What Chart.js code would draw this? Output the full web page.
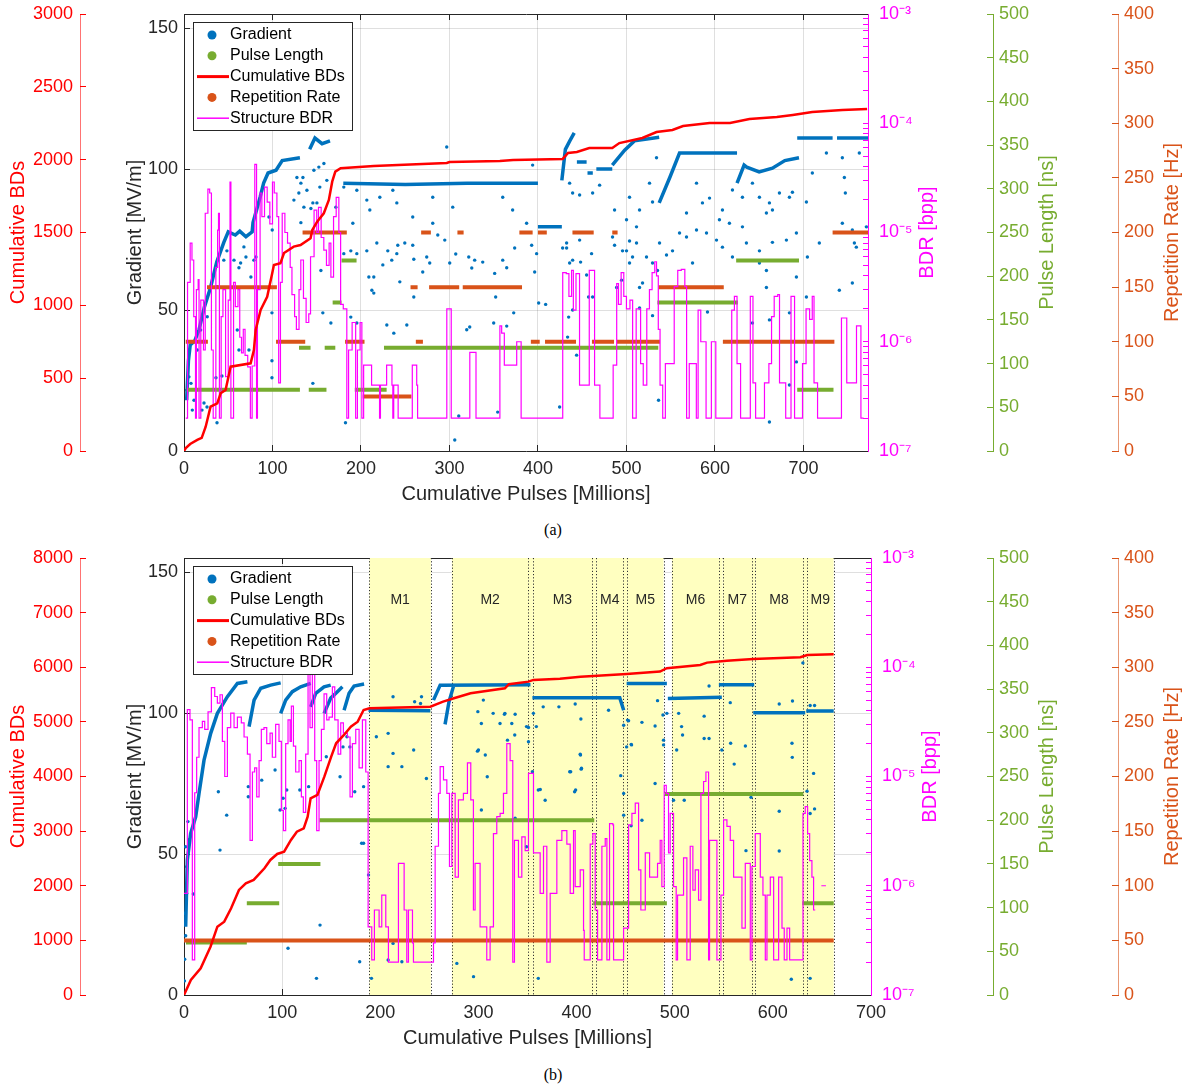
<!DOCTYPE html>
<html><head><meta charset="utf-8">
<script src="https://cdn.jsdelivr.net/npm/chart.js@4.4.0/dist/chart.umd.min.js"></script>
<style>
html,body{margin:0;padding:0;background:#fff;}
#wrap{position:relative;width:1186px;height:1089px;overflow:hidden;}
canvas{position:absolute;left:0;}
.cap{position:absolute;font-family:'Liberation Serif','Times New Roman',serif;font-size:16px;line-height:20px;transform:translateX(-50%);color:#000;}
</style></head>
<body><div id="wrap">
<canvas id="ca" width="1186" height="510" style="top:0px"></canvas>
<div class="cap" style="left:553px;top:520px">(a)</div>
<canvas id="cb" width="1186" height="510" style="top:544px"></canvas>
<div class="cap" style="left:553px;top:1065px">(b)</div>
</div>
<script>
// ---------------- tick labels / axis ranges ----------------
const GRAD_TICKS = [0, 50, 100, 150];
const PULSE_TICKS = [0, 50, 100, 150, 200, 250, 300, 350, 400, 450, 500];
const REP_TICKS = [0, 50, 100, 150, 200, 250, 300, 350, 400];
const BDR_DECADES = [-7, -6, -5, -4, -3];
const A_X_TICKS = [0, 100, 200, 300, 400, 500, 600, 700];
const B_X_TICKS = [0, 100, 200, 300, 400, 500, 600, 700];
const A_CUM_TICKS = [0, 500, 1000, 1500, 2000, 2500, 3000];
const B_CUM_TICKS = [0, 1000, 2000, 3000, 4000, 5000, 6000, 7000, 8000];
const LEGEND_LABELS = ['Gradient', 'Pulse Length', 'Cumulative BDs', 'Repetition Rate', 'Structure BDR'];

// ---------------- panel (a) data ----------------
const A_CUM_BDS = [[0,0],[2,20],[7,48],[15,76],[20,90],[24.5,167],[30,304],[37.6,327],[41.4,396],[47,419],[52.7,579],[75.3,602],[79,693],[81,831],[86.6,968],[94,1059],[99.7,1220],[101.6,1277],[109,1289],[113,1359],[124,1403],[131.7,1414],[143,1460],[145,1517],[150.5,1574],[158,1632],[163.7,1723],[167.5,1849],[171,1918],[177,1941],[214.5,1957],[297,1977],[300,1984],[357,1991],[372,1998],[428,2005],[434,2046],[444,2053],[458,2080],[484,2080],[492,2114],[518,2149],[534,2190],[552,2204],[564,2231],[594,2252],[617,2252],[639,2279],[670,2293],[688,2307],[710,2327],[744,2341],[772,2348]];
const A_PULSE_SEGMENTS = [[3,131,70],[130,143,118],[141,161,70],[159,171,118],[168,178,170],[178,195,218],[193,229,70],[226,536,118],[535,626,170],[624,695,218],[693,734,70]];
const A_REP_SEGMENTS = [[2,27,100],[26,105,150],[104,137,100],[134,184,200],[182,204,100],[202,257,50],[256,264,150],[262,270,100],[268,279,200],[277,311,150],[309,316,200],[315,382,150],[379,394,200],[392,402,100],[400,410,200],[408,443,100],[439,463,200],[461,486,100],[484,490,200],[489,538,100],[536,610,150],[609,735,100],[733,775,200]];
const A_GRAD_BANDS = [
 [[3,18],[5,32],[7,37.6],[12,39],[17,43],[23,51],[30,58],[37,67],[45,74],[50,77.7],[58,76.6],[63,78],[70,76],[77,77.7],[78,81],[82,85.5],[86,90],[90,95],[95,98.6],[104,99.6],[111,103],[131,104]],
 [[142,107],[148,111],[156,109],[165,110]],
 [[180,95],[250,94.5],[320,95],[400,95]],
 [[400,79.5],[427,79.5]],
 [[427,96],[431,107],[436,110],[441,112.8]],
 [[444,102.5],[455,102.5]],
 [[456,98.6],[462,98.6]],
 [[466,100],[484,100]],
 [[484,101.4],[498,106.7],[509,110],[537,111.3]],
 [[537,88],[549,97],[560,105.7],[625,105.7]],
 [[625,95],[633,101.4],[636,100.7],[650,99],[665,100.3],[679,103],[695,104]],
 [[693,111],[733,111]],
 [[738,111],[774,111]]
];
const A_GRAD_POINTS = [[217.9,73.8],[230.3,71],[241.6,73],[214.5,61.7],[224.7,66],[234.8,67.7],[243.9,60],[249.5,73.8],[258.5,73],[259.7,68],[269.8,63.5],[274.3,68.8],[277.7,66.7],[286.8,76.6],[294.7,74.8],[300.3,66.7],[307.1,69.9],[321.8,68.8],[328.5,67.7],[325.2,64.9],[337.6,67],[351.1,63],[360.2,67.7],[364.7,65],[373.7,72],[392.9,73],[396.3,63.5],[214.5,56],[259.7,54.6],[229.2,44.7],[237.1,41.8],[251.8,44.7],[319.5,43],[322.9,44],[350,45.4],[352.2,54.6],[364.7,44.3],[372.6,49],[400.8,52.5],[408.7,52],[433.5,40.4],[443.7,34],[424.5,15.6],[536.3,18],[432.4,72],[435.8,66.7],[448.2,67],[455,62.4],[460.6,70],[486.6,73],[495.6,71],[506.9,68.8],[494.5,60.6],[514.8,58],[529.5,66.7],[545.3,69.5],[535.1,64],[503.5,74.5],[457.2,54.6],[439.2,50],[434.7,47.5],[529.5,48],[514.8,50.7],
[296.9,107.8],[394,101.4],[134.4,97],[138.9,92.5],[145.6,88],[153.5,93.6],[221.3,90],[236,92.5],[240.5,88],[258.5,83],[281.1,90],[281.1,80.8],[303.7,86.5],[360.2,90],[371.4,85.5],[387.2,80.8],[398.5,70],[210,85.5],[206.6,71],[190.8,80.8],[240.5,70],[427.9,72],
[7.9,24],[11.3,18],[20.3,14.5],[26,15.6],[36.1,26],[48.5,71],[62.1,65],[70,68.8],[75.6,61.7],[81.3,68.8],[99.4,49],[99.4,32],[99.4,26],[37.3,10],[132.1,81],[135.5,86.5],[143.4,86],[150.2,88],[124.2,89],[129.8,91.5],[146.8,99.6],[152.4,100.7],[158.1,102],[161.4,96],[171.6,86.5],[180.6,70],[188.5,71],[195.3,70],[208.9,61.7],[212.3,57],[188.5,47.5],[195.3,45.4],[154.7,64],[156.9,49],[166,45.4],[206.6,89],[180.6,93.6],[195.3,92.5],[127.6,97],[132.1,95],[62.1,35.8],
[56.5,67.7],[64,66.7],[67.7,72.4],[45,67.7],[37.6,58.3],[26.3,47.6],[18.8,42.9],[15,35.8],[5.6,26.3],[3,21.6],[9.4,14.5],[22.6,17],[60.2,42.9],[73.4,35.8],[79,67.7],[99.7,78.4],[96,83],[145.6,24],[42.9,26.6],[306,3.9],[354.5,13.8],[310.5,12.4],[182.5,10],
[435.8,95],[439.2,91.5],[447.1,90.8],[461.8,91.5],[469.7,94.3],[486.6,85.5],[503.5,90],[514.8,85.5],[526.1,95],[529.5,88.3],[534,104],[500.1,82],[511.4,79.5],[567.9,84.4],[579.2,95],[585.9,88],[593.9,89.7],[608.5,85.5],[619.8,92.6],[631.1,90],[642.4,95],[650.3,90],[661.6,88],[672.9,91.5],[684.2,90],[687.6,91.8],[703.4,88.3],[710.1,98.6],[726,105.7],[744,104],[746.3,97],[747.4,91.5],[763.2,105.7],[665,85.5],[658.2,84.4],[605.1,82],[616.4,80.8],[631.1,79.5],[432.4,73.8],[447.1,74.8],[439.2,67.7],[484.3,75.9],[500.1,71],[511.4,73.8],[522.7,68.8],[537.4,73.8],[552.1,71],[560,77.3],[567.9,75.9],[579.2,78.4],[590.5,77.3],[601.8,74.8],[608.5,72.3],[619.8,68.8],[635.6,73.8],[650.3,71],[665,74],[680.8,74.8],[692.1,77.3],[704.5,68.8],[718,73.8],[744,80.8],[755.3,78.4],[759.8,72.3],[771.1,79.5],[650.3,66.7],[658.2,64],[503.5,66.7],[574.7,66.7],[488.9,58],[518.2,59.6],[658.2,58],[661.6,46.5],[684.2,49],[461.8,54.6],[591.6,49.3],[692.1,61.7],[703.4,54.6],[740.6,57],[755.3,59.6],[757.6,73.8],[642.4,45.4],[661.6,10.3],[684.2,23.4],[692.1,31.6]];
const A_BDR = [[2,2e-7],[4,3.5e-6],[7,8e-6],[9,5.6e-6],[11,1.7e-6],[13,2e-7],[14,3e-6],[16,3.7e-6],[17,2e-7],[19,2.4e-6],[22,8.4e-7],[24,1.5e-5],[27,2.5e-5],[29,2.3e-5],[31,8.4e-7],[33,2e-7],[36,4.8e-6],[38,1.05e-5],[39,1.5e-5],[40,2e-7],[42,1.7e-6],[44,3e-6],[47,4.8e-7],[50,2.4e-6],[52,2.9e-5],[53,2e-7],[56,3.5e-6],[58,2.1e-6],[61,3e-6],[63,1.1e-6],[65,7.9e-7],[67,1.3e-6],[69,7.5e-7],[72,5.9e-7],[75,2e-7],[77,6e-7],[80,4.2e-5],[82,2e-7],[83,3e-6],[86,2.3e-5],[88,1.4e-5],[91,2.6e-5],[94,1.9e-5],[97,1.2e-5],[100,2.9e-5],[102,2.3e-5],[105,1.4e-5],[107,4.2e-7],[109,3.5e-6],[111,1.5e-5],[114,1e-5],[117,8e-6],[120,4.8e-6],[122,2.7e-6],[125,1.7e-6],[127,1.3e-6],[130,3e-6],[132,5.6e-6],[135,2.5e-6],[138,1.5e-6],[141,1.8e-6],[143,6e-6],[147,1.6e-5],[150,1e-5],[152,1.7e-5],[155,9e-6],[158,6.9e-6],[161,5e-6],[164,8e-6],[166,3.9e-6],[169,1.4e-5],[172,2.1e-5],[175,1e-5],[177,2.2e-6],[180,2e-6],[184,2e-7],[186,8.4e-7],[190,1.5e-6],[194,2e-7],[196,8.4e-7],[199,1.5e-6],[201,2e-7],[203,6.1e-7],[212,4e-7],[221,2e-7],[222,4e-7],[229,6.1e-7],[235,4e-7],[236,2e-7],[237,4e-7],[242,2e-7],[258,6.1e-7],[263,4e-7],[264,2e-7],[297,2e-6],[302,2e-7],[323,8e-7],[330,2e-7],[357,1.4e-6],[359,1.2e-6],[362,6.1e-7],[376,1e-6],[381,2e-7],[428,4.3e-6],[432,4.2e-6],[435,2.6e-6],[438,4.5e-6],[440,1.95e-6],[443,4.2e-6],[447,4e-7],[458,4.5e-6],[464,4e-7],[470,2e-7],[485,6.1e-7],[489,3.4e-6],[491,2.2e-6],[494,4.3e-6],[497,2.6e-6],[500,2e-6],[504,2.4e-6],[507,2e-7],[511,2e-6],[516,6.3e-7],[519,4e-7],[523,2e-6],[526,3e-6],[529,4.3e-6],[532,5.4e-6],[534,4e-6],[536,1.3e-6],[538,4e-7],[541,2e-7],[544,6.3e-7],[554,3.2e-6],[558,4.5e-6],[562,4.6e-6],[566,3.2e-6],[568,2e-7],[571,6.3e-7],[579,2e-7],[581,1.95e-6],[584,1e-6],[590,2e-7],[596,1e-6],[601,2e-7],[619,1.95e-6],[622,2.6e-6],[625,6.3e-7],[629,2e-7],[640,2.6e-6],[643,4.2e-7],[646,2e-7],[656,4.2e-7],[661,6.3e-7],[664,1.7e-6],[667,2.6e-6],[671,2.7e-6],[673,4.2e-7],[680,2e-7],[686,2.6e-6],[690,2e-7],[699,6.3e-7],[703,2e-6],[707,1.6e-6],[710,2.6e-6],[712,4.2e-7],[716,2e-7],[743,1.65e-6],[749,4.2e-7],[760,1.4e-6],[765,2e-7],[768,2e-7]];

// ---------------- panel (b) data ----------------
const B_CUM_BDS = [[0,0],[7,275],[17,489],[27,884],[34,1251],[41,1342],[48,1587],[56,1923],[63,2045],[71,2106],[82,2320],[88,2472],[95,2582],[102,2624],[109,2838],[115,2990],[122,3052],[126,3265],[129,3601],[136,3662],[143,3997],[150,4363],[155,4608],[163,4761],[170,4913],[177,5004],[183,5218],[189,5249],[251,5279],[264,5370],[275,5432],[292,5524],[327,5615],[331,5689],[351,5737],[356,5768],[383,5790],[404,5828],[417,5841],[451,5878],[485,5920],[492,5982],[526,6042],[533,6085],[553,6121],[580,6152],[628,6183],[635,6225],[662,6238]];
const B_PULSE_SEGMENTS = [[2,64,60],[64,97,105],[96,139,150],[138,418,200],[417,492,105],[490,631,230],[630,662,105]];
const B_REP_SEGMENTS = [[0,662,50]];
const B_GRAD_BANDS = [
 [[1.7,24.2],[3.4,47.9],[6.8,57.3],[11.9,63.2],[15.3,71.5],[20.4,83.3],[27.2,92.8],[34,99.9],[44.2,105.8],[54.4,110.5],[64.6,111.1]],
 [[66.3,95.2],[71.4,104.6],[78.2,108.8],[88.3,109.9],[98.5,110.7]],
 [[98.5,99.9],[103.6,104.6],[110.4,107.6],[118.9,109.3],[129.1,110.5]],
 [[129.1,102.2],[134.2,107],[142.7,109.3],[149.5,109.9]],
 [[142.7,99.9],[149.5,105.3],[156.3,107.6],[161.4,109.3]],
 [[163.1,101],[168.2,107],[173.3,109.6],[183.5,110.3]],
 [[188,101],[251,100.8]],
 [[254.2,104.6],[261,109.9],[353,110]],
 [[266,96],[270,104],[275,110]],
 [[355,105.4],[444,105.4],[448,101]],
 [[451,110.5],[492,110.5]],
 [[493,105.2],[548,105.6]],
 [[545,110],[581,110]],
 [[580,100.1],[633,100.1]],
 [[634,100.7],[662,100.7]]
];
const B_GRAD_POINTS = [[213,105.8],[196,91.6],[208,92.8],[213,85.7],[208,81],[222,81],[234,86.9],[247,76.8],[241,103.4],[235,104],[183,73.9],[183,53.8],[188,42.6],[191,5.9],[208,12.4],[222,11.8],[213,18.3],[242,105.8],[305,104.6],[295,6.5],[303,96.3],[322,96.3],[327,99.9],[300,86.9],[307,85.1],[309,77.4],[303,65.6],[334,96.3],[337,92.2],[356,99.9],[359,95.2],[366,102.2],[382,102.2],[361,72.7],[368,69.1],[393,79.2],[399,72.7],[361,5.9],[349,95.2],[351,89.8],[278,11.2],[349,52.6],[315,99.9],
[35,72.1],[43.5,63.8],[36.7,51.4],[65.5,73.9],[65.5,70.3],[79.2,76.2],[92.8,79.8],[97.9,65.6],[103,66.2],[101,69.8],[104.7,72.7],[106,16.6],[138.6,24.8],[135,5.9],[179,11.8],[174,72.1],[181,53.8],[127,73.9],[118,72.7],[159,77.4],[145,84.5],[162,88],[169,88],[166,91.6],
[398.6,103.2],[404.4,97.9],[394,79.2],[398,72.1],[404,85.1],[405,80.4],[432.6,101],[445,77.8],[448,95.7],[448,71.5],[448,63.8],[451,88],[456,88.7],[455.6,60],[453,97.3],[466.6,96.7],[466.6,62],[480,75],[480,95.4],[482.5,104.4],[488,99.3],[488.6,90.4],[488.6,88.7],[492,99.9],[498.8,69.1],[509.7,69.1],[502,86.9],[507,95.2],[508,92.2],[504,99.9],[530,98.9],[530,91],[535,91],[535,109.6],[548,86.9],[556.6,103.7],[557,89.3],[560.6,81.9],[572,88.3],[577.7,70.1],[572.6,51.2],[606.5,103.2],[606.5,65.2],[606.5,51.1],[618.8,5.6],[619.5,89.3],[619.8,84.3],[620,104.3],[630.6,117.8],[634.8,72.3],[638,64.4],[638,5.9],[641.5,78.6],[642.5,66],[638,102.7],[642.5,102.7],
[9.5,35.8],[4,61.5],[2.7,36],[1.7,52.6],[2.7,45.5],[1,29],[1.7,21],[0.7,12.7],[5.1,55.1],[0.5,5],
[299.4,100.5],[326.5,99.6],[337.4,99.6],[299,86.5],[337.4,62.7],[329.6,90.4],[351,94.9],[363,72.9],[404.7,80.1],[403.7,85.4],[355,79.2],[451.9,97.5],[455.7,88.9]];
const B_BDR = [[0,8.5e-7],[3.4,4.1e-5],[6.1,3.3e-5],[8.5,2.1e-7],[10.9,7.1e-6],[12.9,1.5e-5],[15.3,2.8e-5],[18.7,3.2e-5],[21.1,2.7e-5],[24.5,3.9e-5],[27.9,6.5e-5],[31.3,5.4e-5],[34,4.7e-5],[36.7,5.6e-5],[39.1,2.1e-5],[41.5,1e-5],[44.2,2.8e-5],[47.6,3.8e-5],[51,2.8e-5],[54.4,3.5e-5],[58.4,3.1e-5],[61.2,2.3e-5],[64.6,1.6e-5],[67.3,2.6e-6],[69.7,1.1e-5],[72,1.2e-5],[74.1,6.5e-6],[76.5,1.4e-5],[78.8,2.7e-5],[81.5,2.8e-5],[84.3,2e-5],[87.7,2.5e-5],[90,1.5e-5],[93.4,3e-5],[96.8,2.1e-5],[99.2,4.9e-6],[101.3,3.2e-6],[103.6,2e-5],[106,3.3e-5],[108.1,2.1e-5],[109.4,4.4e-5],[111.5,1.9e-5],[113.8,1.1e-5],[117.2,1.4e-5],[119.6,6.5e-6],[121.6,4.7e-6],[124,1.6e-5],[126.4,8.9e-5],[128.4,2.8e-5],[130.8,8.9e-5],[133.2,1.4e-5],[135.2,3.2e-6],[137.6,1.4e-5],[140,2.7e-5],[142.7,5.7e-5],[145.4,3.3e-5],[147.8,3.5e-5],[151.2,6.6e-5],[153.6,3.3e-5],[157,1.6e-5],[159.7,3.1e-5],[162.4,2.5e-5],[166.5,2.3e-5],[169.2,6.5e-6],[171.6,2e-5],[175,2.7e-5],[178.4,1.2e-5],[181.8,3.3e-5],[185.2,1.1e-5],[187.6,4.2e-7],
[191.3,2.1e-7],[194,6e-7],[198.8,4.2e-7],[201.5,8.2e-7],[205.6,4.2e-7],[208.3,2e-7],[218.5,1.6e-6],[224.3,6e-7],[227,2e-7],[228.7,6e-7],[232.8,3e-7],[233.8,2e-7],[254.2,3e-7],[255.9,2.3e-6],[259.3,7e-6],[261,1.23e-5],[264.4,9.3e-6],[267.8,7e-6],[270.5,1.5e-6],[272.9,7e-6],[276.3,1.2e-6],[279.6,6.1e-6],[284.7,7e-6],[288.8,1.33e-5],[292.2,6.1e-6],[294.9,6e-7],[296.6,1.6e-6],[301.7,4.2e-7],[308.5,2.1e-7],[311.9,4.2e-7],[315.3,3e-6],[318.7,4.3e-6],[322.1,4.6e-6],[325.5,7e-6],[328.9,2e-5],[332.3,1.4e-5],[335,2e-7],[336.7,2.6e-6],[340.8,1.2e-6],[344.2,2.8e-6],[347.6,2.1e-6],[351,1.07e-5],[356.1,2e-6],[362.9,8.5e-7],[366.3,2.3e-6],[369.7,2e-7],[373.1,8.5e-7],[379.9,2.6e-6],[385,3.2e-6],[390.1,2.4e-6],[393.5,8.5e-7],
[396.9,3.2e-6],[398.6,9.8e-7],[403.7,1.4e-6],[407.1,3.9e-7],[407.8,2.1e-7],[413.9,2.4e-6],[416.6,3e-6],[419,6e-7],[421.4,2.1e-7],[425.8,2.3e-6],[429.2,2.7e-6],[430.9,2.1e-7],[433.6,3.7e-6],[437,3.6e-6],[437.7,2.1e-7],[447.9,4.1e-7],[453,3.6e-6],[456.4,4.6e-6],[459.8,5.7e-6],[463.2,1.4e-6],[465.5,6e-7],[470,2e-6],[474.4,1.2e-6],[482.5,1.6e-6],[485.2,2.6e-6],[486.9,9.8e-7],[489.3,8.3e-6],[491.4,7e-6],[493.7,2e-6],[495.4,4.6e-6],[498.8,9.8e-7],[501.5,2.1e-7],[502.9,8.2e-7],[509,1.8e-6],[512.4,2.1e-7],[515.8,2.3e-6],[518.5,9.1e-7],[520.9,1.4e-6],[524.3,7.4e-7],[526.7,7e-6],[529.4,9e-6],[531.8,1.1e-5],[534.5,2.1e-7],[535.5,2.6e-6],[540.3,2.6e-6],[543,2.1e-7],[547.1,8.2e-7],[549.8,4e-6],[553.2,3.5e-6],[556.6,2.6e-6],[560,1.2e-6],[568.5,4.1e-7],[571.9,1.6e-6],[577,2.1e-7],[578.7,1.5e-6],[582.1,3e-6],[587.2,1.2e-6],[589.9,8.2e-7],[592.3,2.1e-7],[594,8.2e-7],[597.4,1.2e-6],[600.8,2.1e-7],[605.9,1.2e-6],[609.3,4.1e-7],[611.6,2.1e-7],[614.4,4.1e-7],[617.1,2.1e-7],[630.7,4.6e-6],[633,5.3e-6],[635.4,3e-6],[637.5,1.7e-6],[639.8,1.2e-6],[641.5,6e-7],[643.2,6e-7],[643.3,null],[649.4,1e-6],[654.1,1e-6]];
const B_REGION_LABELS = ['M1','M2','M3','M4','M5','M6','M7','M8','M9'];
const B_REGION_START = [188.9, 272.9, 355.5, 420.0, 451.3, 497.1, 548.7, 582.1, 634.8];
const B_REGION_END   = [251.5, 351.0, 415.6, 447.8, 488.6, 545.4, 578.7, 630.3, 661.9];

// ---------------- styling ----------------
const FONT = "'Liberation Sans', Arial, Helvetica, sans-serif";
const DARK = '#262626';
const GRID = 'rgba(38,38,38,0.15)';
const C_GRAD = '#0072BD', C_PULSE = '#77AC30', C_CUM = '#FF0000', C_REP = '#D95319', C_BDR = '#FF00FF';
const LEGEND_STYLE = [
  {kind:'dot', color:C_GRAD}, {kind:'dot', color:C_PULSE}, {kind:'line', color:C_CUM, w:3},
  {kind:'dot', color:C_REP}, {kind:'line', color:C_BDR, w:1.5}
];

function pairData(arr){ return arr.map(p => ({x:p[0], y:p[1]})); }
function segData(segs){ const out=[]; segs.forEach(s => { out.push({x:s[0],y:s[2]},{x:s[1],y:s[2]},{x:s[1],y:null}); }); return out; }
function bandData(bands){ const out=[]; bands.forEach(b => { b.forEach(p => out.push({x:p[0],y:p[1]})); out.push({x:b[b.length-1][0], y:null}); }); return out; }
const SUP = {'-':'\u207B','0':'\u2070','1':'\u00B9','2':'\u00B2','3':'\u00B3','4':'\u2074','5':'\u2075','6':'\u2076','7':'\u2077','8':'\u2078','9':'\u2079'};
function supStr(n){ return String(n).split('').map(c => SUP[c]).join(''); }
function fixTicks(arr){ return s => { s.ticks = arr.map(v => ({value:v})); }; }
function bdrTickValues(){
  const out = [];
  for (let i = 0; i < BDR_DECADES.length - 1; i++) for (let m = 1; m <= 9; m++) out.push(m * Math.pow(10, BDR_DECADES[i]));
  out.push(Math.pow(10, BDR_DECADES[BDR_DECADES.length-1]));
  return out;
}
// fixed box width, and no label-overflow padding (keeps the plot box where the reference has it)
function vFit(w){ return s => { s.width = w; s.paddingTop = 0; s.paddingBottom = 0; }; }
function hFit(h){ return s => { s.height = h; s.paddingLeft = 0; s.paddingRight = 0; }; }

function mkScales(p){
  const tf = {family:FONT, size:18};
  const numCb = v => String(v);
  return {
    x: {type:'linear', position:'bottom', weight:0, min:0, max:p.xMax,
      afterBuildTicks: fixTicks(p.xTicks), afterFit: hFit(59),
      ticks:{autoSkip:false, maxRotation:0, minRotation:0, padding:13, color:DARK, font:tf, callback:numCb},
      grid:{color:GRID, lineWidth:1, tickColor:DARK, tickLength:-6}, border:{color:DARK, width:1}},
    xTop: {type:'linear', position:'top', weight:0, min:0, max:p.xMax,
      afterBuildTicks: fixTicks(p.xTicks), afterFit: hFit(0),
      ticks:{display:false}, grid:{drawOnChartArea:false, tickColor:DARK, tickLength:-6}, border:{color:DARK, width:1}},
    cum: {type:'linear', position:'left', weight:10, min:0, max:p.cumTicks[p.cumTicks.length-1],
      afterBuildTicks: fixTicks(p.cumTicks), afterFit: vFit(80),
      ticks:{autoSkip:false, padding:13, color:C_CUM, font:tf, callback:numCb},
      grid:{drawOnChartArea:false, tickColor:C_CUM, tickLength:-6}, border:{color:'rgba(255,0,0,0.55)', width:1}},
    grad: {type:'linear', position:'left', weight:5, min:0, max:155,
      afterBuildTicks: fixTicks(GRAD_TICKS), afterFit: vFit(104),
      ticks:{autoSkip:false, padding:12, color:DARK, font:tf, callback:numCb},
      grid:{color:GRID, lineWidth:1, tickColor:DARK, tickLength:-6}, border:{color:DARK, width:1}},
    bdr: {type:'logarithmic', position:'right', weight:1, min:1e-7, max:1e-3,
      afterBuildTicks: fixTicks(bdrTickValues()), afterFit: vFit(p.bdrWidth),
      ticks:{autoSkip:false, padding:16, color:C_BDR, font:tf,
        callback: v => { const e = Math.log10(v); const r = Math.round(e); return Math.abs(e - r) < 1e-6 ? '10' + supStr(r) : ''; }},
      grid:{drawOnChartArea:false, tickColor:C_BDR, tickLength:-5}, border:{color:C_BDR, width:1}},
    pulse: {type:'linear', position:'right', weight:2, min:0, max:500,
      afterBuildTicks: fixTicks(PULSE_TICKS), afterFit: vFit(125),
      ticks:{autoSkip:false, padding:12, color:C_PULSE, font:tf, callback:numCb},
      grid:{drawOnChartArea:false, tickColor:C_PULSE, tickLength:-6}, border:{color:C_PULSE, width:1}},
    rep: {type:'linear', position:'right', weight:3, min:0, max:400,
      afterBuildTicks: fixTicks(REP_TICKS), afterFit: vFit(68),
      ticks:{autoSkip:false, padding:12, color:C_REP, font:tf, callback:numCb},
      grid:{drawOnChartArea:false, tickColor:C_REP, tickLength:-6}, border:{color:'rgba(217,83,25,0.6)', width:1}}
  };
}

function mkDatasets(d){
  return [
    {label:'Cumulative BDs', data:pairData(d.cum), xAxisID:'x', yAxisID:'cum', showLine:true, borderColor:C_CUM, borderWidth:2.5, pointRadius:0, order:1},
    {label:'Structure BDR', data:pairData(d.bdr), xAxisID:'x', yAxisID:'bdr', showLine:true, stepped:'before', borderColor:C_BDR, borderWidth:1.2, pointRadius:0, order:2},
    {label:'Repetition Rate', data:segData(d.rep), xAxisID:'x', yAxisID:'rep', showLine:true, borderColor:C_REP, borderWidth:4, pointRadius:0, order:3},
    {label:'Pulse Length', data:segData(d.pulse), xAxisID:'x', yAxisID:'pulse', showLine:true, borderColor:C_PULSE, borderWidth:4, pointRadius:0, order:4},
    {label:'Gradient band', data:bandData(d.bands), xAxisID:'x', yAxisID:'grad', showLine:true, borderColor:C_GRAD, borderWidth:3.5, pointRadius:0, order:5},
    {label:'Gradient', data:pairData(d.points), xAxisID:'x', yAxisID:'grad', showLine:false, pointRadius:1.7, pointBackgroundColor:C_GRAD, pointBorderWidth:0, order:6}
  ];
}

function vText(ctx, text, x, y, color, size){
  ctx.save(); ctx.translate(x, y); ctx.rotate(-Math.PI/2);
  ctx.fillStyle = color; ctx.font = size + 'px ' + FONT; ctx.textAlign = 'center'; ctx.textBaseline = 'middle';
  ctx.fillText(text, 0, 0); ctx.restore();
}

const decor = {
  id: 'decor',
  beforeDatasetsDraw(chart, args, opts){
    const reg = opts.regions; if (!reg) return;
    const ctx = chart.ctx, ca = chart.chartArea, xs = chart.scales.x;
    ctx.save();
    ctx.beginPath(); ctx.rect(ca.left, ca.top, ca.right - ca.left, ca.bottom - ca.top); ctx.clip();
    ctx.fillStyle = '#ffffc0';
    const n = reg.start.length;
    for (let i = 0; i < n; i++){
      const a = xs.getPixelForValue(reg.start[i]);
      let bv = reg.end[i];
      if (i + 1 < n && reg.start[i+1] - reg.end[i] < 6) bv = reg.start[i+1];
      const b = xs.getPixelForValue(bv);
      ctx.fillRect(a, ca.top, b - a, ca.bottom - ca.top);
    }
    ctx.setLineDash([1.2, 2]); ctx.strokeStyle = '#333'; ctx.lineWidth = 1;
    for (let i = 0; i < n; i++){
      [reg.start[i], reg.end[i]].forEach(v => {
        const x = Math.round(xs.getPixelForValue(v)) + 0.5;
        ctx.beginPath(); ctx.moveTo(x, ca.top); ctx.lineTo(x, ca.bottom); ctx.stroke();
      });
    }
    ctx.setLineDash([]);
    ctx.fillStyle = DARK; ctx.font = '14px ' + FONT; ctx.textAlign = 'center'; ctx.textBaseline = 'middle';
    for (let i = 0; i < n; i++){
      const c = xs.getPixelForValue((reg.start[i] + reg.end[i]) / 2);
      ctx.fillText(reg.labels[i], c, ca.top + 42);
    }
    ctx.restore();
  },
  afterDraw(chart, args, opts){
    const ctx = chart.ctx, ca = chart.chartArea, sc = chart.scales;
    const cy = (ca.top + ca.bottom) / 2;
    vText(ctx, 'Cumulative BDs', sc.cum.left + 18, cy, C_CUM, 20);
    vText(ctx, 'Gradient [MV/m]', sc.grad.left + 55, cy, DARK, 20);
    vText(ctx, 'BDR [bpp]', sc.bdr.left + 59, cy, C_BDR, 20);
    vText(ctx, 'Pulse Length [ns]', sc.pulse.left + 54, cy, C_PULSE, 20);
    vText(ctx, 'Repetition Rate [Hz]', sc.rep.left + 54, cy, C_REP, 20);
    ctx.save();
    ctx.fillStyle = DARK; ctx.font = '20px ' + FONT; ctx.textAlign = 'center'; ctx.textBaseline = 'middle';
    ctx.fillText('Cumulative Pulses [Millions]', (ca.left + ca.right) / 2, ca.bottom + 43);
    // legend
    const x0 = ca.left + 9, y0 = ca.top + 8, w = 159, h = 108;
    ctx.fillStyle = '#fff'; ctx.fillRect(x0, y0, w, h);
    ctx.strokeStyle = DARK; ctx.lineWidth = 1; ctx.strokeRect(x0 + 0.5, y0 + 0.5, w, h);
    ctx.font = '16px ' + FONT; ctx.textAlign = 'left';
    LEGEND_LABELS.forEach((lab, i) => {
      const y = y0 + 13 + i * 20.8, st = LEGEND_STYLE[i];
      if (st.kind === 'dot'){
        ctx.fillStyle = st.color; ctx.beginPath(); ctx.arc(x0 + 19, y, 4.5, 0, Math.PI * 2); ctx.fill();
      } else {
        ctx.strokeStyle = st.color; ctx.lineWidth = st.w; ctx.beginPath(); ctx.moveTo(x0 + 4, y); ctx.lineTo(x0 + 36, y); ctx.stroke();
      }
      ctx.fillStyle = '#000'; ctx.fillText(lab, x0 + 37, y);
    });
    ctx.restore();
  }
};

function mkChart(id, p, d, regions){
  return new Chart(document.getElementById(id), {
    type: 'line',
    data: {datasets: mkDatasets(d)},
    options: {
      responsive:false, animation:false, devicePixelRatio:1, events:[],
      layout:{padding:{top:14, left:0, right:0, bottom:0}},
      plugins:{legend:{display:false}, tooltip:{enabled:false}, decor:{regions: regions}},
      scales: mkScales(p)
    },
    plugins:[decor]
  });
}

mkChart('ca', {xMax:773, xTicks:A_X_TICKS, cumTicks:A_CUM_TICKS, bdrWidth:125},
  {cum:A_CUM_BDS, bdr:A_BDR, rep:A_REP_SEGMENTS, pulse:A_PULSE_SEGMENTS, bands:A_GRAD_BANDS, points:A_GRAD_POINTS}, null);
mkChart('cb', {xMax:700, xTicks:B_X_TICKS, cumTicks:B_CUM_TICKS, bdrWidth:122},
  {cum:B_CUM_BDS, bdr:B_BDR, rep:B_REP_SEGMENTS, pulse:B_PULSE_SEGMENTS, bands:B_GRAD_BANDS, points:B_GRAD_POINTS},
  {start:B_REGION_START, end:B_REGION_END, labels:B_REGION_LABELS});
</script>
</body></html>
